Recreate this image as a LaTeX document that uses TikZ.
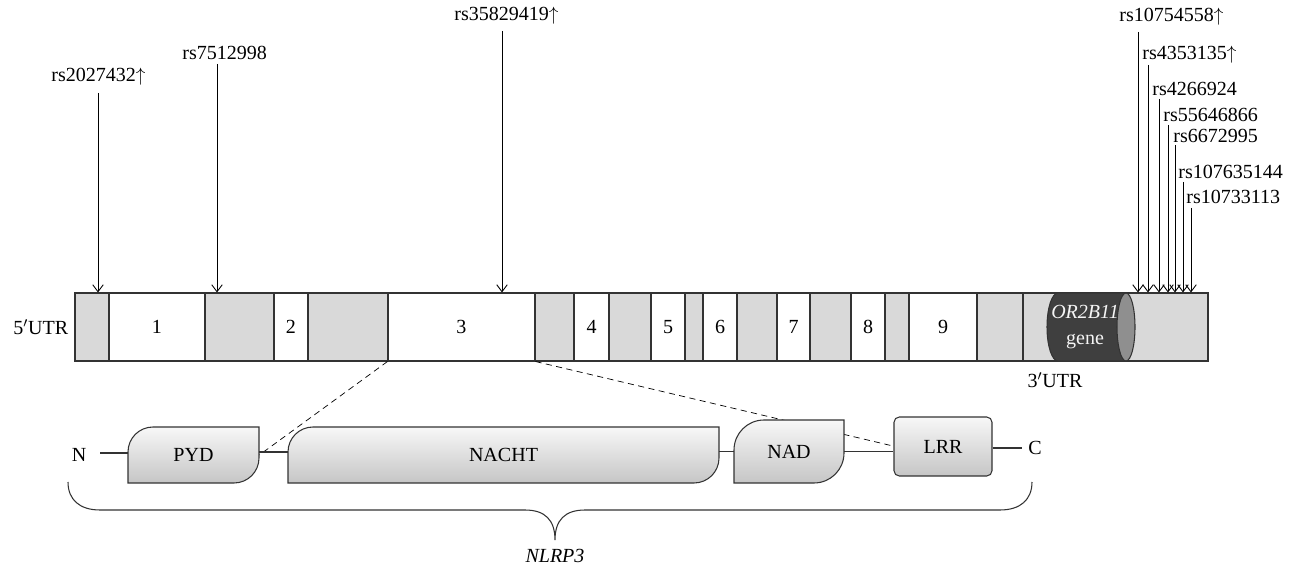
\documentclass[tikz,border=0pt]{standalone}
\usepackage{fontspec}
\setmainfont{Liberation Serif}
\usetikzlibrary{arrows.meta}
\definecolor{introngray}{HTML}{D9D9D9}
\definecolor{edgegray}{HTML}{333333}
\definecolor{genedark}{HTML}{3F3F3F}
\definecolor{genecap}{HTML}{8F8F8F}

\begin{document}
\begin{tikzpicture}[x=0.02cm,y=-0.02cm,
  font=\fontsize{11.4}{14}\selectfont,
  exonbox/.style={draw=edgegray,fill=white,inner sep=0pt,minimum height=68*0.02cm,line width=0.6pt},
  domainshape/.style={draw=edgegray,line width=0.6pt,top color=gray!6,bottom color=gray!45},
  snplabel/.style={anchor=west,inner sep=0pt},
  snparrow/.style={-{Straight Barb[length=4pt,width=6pt]},line width=0.5pt}]

  \useasboundingbox (0,0) rectangle (1298,567);

  % gene with exons 1-9
  \node[draw=edgegray,fill=introngray,line width=0.6pt,inner sep=0pt,
    minimum width=1133*0.02cm,minimum height=68*0.02cm] (gene) at (641.5,327) {};
  \foreach \a/\b/\n in {109/205/1,274/308/2,388/535/3,574/609/4,651/685/5,
                        703/737/6,777/810/7,851/885/8,909/977/9}
    \node[exonbox,minimum width={(\b-\a)*0.02cm}] (ex\n) at ({(\a+\b)/2},327) {\n};
  \draw[edgegray,line width=0.6pt] (gene.north -| 1023,0) -- (gene.south -| 1023,0);

  % OR2B11 cylinder
  \draw[edgegray,line width=0.6pt,fill=genedark] (1058,293)
    .. controls (1051.9,293) and (1047,308.2) .. (1047,327)
    .. controls (1047,345.8) and (1051.9,361) .. (1058,361)
    -- (1126,361) -- (1126,293) -- cycle;
  \draw[edgegray,line width=0.6pt,fill=genecap] (1126,327) ellipse [x radius=0.18cm,y radius=0.68cm];
  \node[align=center,text=white!92!gray,font=\fontsize{11.4}{14.5}\selectfont] (or2b11) at (1085,327)
    {\textit{OR2B11}\\gene};

  \node[left] (utr5) at (gene.west) {5$'$UTR};
  \node (utr3) at (1055,380) {3$'$UTR};

  % SNPs
  \node[snplabel] (rs1) at (51,77) {rs2027432$\uparrow$};
  \node[snplabel] (rs2) at (182,53) {rs7512998};
  \node[snplabel] (rs3) at (454,16) {rs35829419$\uparrow$};
  \node[snplabel] (rs4) at (1119,17) {rs10754558$\uparrow$};
  \node[snplabel] (rs5) at (1142,55) {rs4353135$\uparrow$};
  \node[snplabel] (rs6) at (1152,89) {rs4266924};
  \node[snplabel] (rs7) at (1163,115) {rs55646866};
  \node[snplabel] (rs8) at (1173,136) {rs6672995};
  \node[snplabel] (rs9) at (1178,172) {rs107635144};
  \node[snplabel] (rs10) at (1186,197) {rs10733113};

  \coordinate (s1) at (98,93);
  \coordinate (s2) at (217,64);
  \coordinate (s3) at (502,31);
  \coordinate (s4) at (1138,32);
  \coordinate (s5) at (1148,65);
  \coordinate (s6) at (1159,99);
  \coordinate (s7) at (1168,125);
  \coordinate (s8) at (1175,145);
  \coordinate (s9) at (1183,182);
  \coordinate (s10) at (1191,208);
  \foreach \s in {s1,s2,s3,s4,s5,s6,s7,s8,s9,s10}
    \draw[snparrow] (\s) -- (\s |- gene.north);

  % protein domains
  \node[inner sep=0pt,minimum width=131*0.02cm,minimum height=56*0.02cm] (pyd) at (193.5,455) {};
  \node[inner sep=0pt,minimum width=431*0.02cm,minimum height=56*0.02cm] (nacht) at (503.5,455) {};
  \node[inner sep=0pt,minimum width=110*0.02cm,minimum height=63*0.02cm] (nad) at (789,451.5) {};

  \draw[dashed,dash pattern=on 3.5pt off 2.5pt] (ex3.south west) -- (pyd.east);
  \draw[dashed,dash pattern=on 3.5pt off 2.5pt] (ex3.south east) -- (893,446);

  \draw[domainshape] (128,483) -- (128,452) .. controls (128,438.2) and (139.2,427) .. (153,427)
    -- (259,427) -- (259,458) .. controls (259,471.8) and (247.8,483) .. (234,483) -- cycle;
  \draw[domainshape] (288,483) -- (288,452) .. controls (288,438.2) and (299.2,427) .. (313,427)
    -- (719,427) -- (719,458) .. controls (719,471.8) and (707.8,483) .. (694,483) -- cycle;
  \draw[domainshape] (734,483) -- (734,450) .. controls (734,433.4) and (747.4,420) .. (764,420)
    -- (844,420) -- (844,453) .. controls (844,469.6) and (830.6,483) .. (814,483) -- cycle;
  \node[domainshape,rounded corners=3pt,inner sep=0pt,minimum width=98*0.02cm,minimum height=59*0.02cm]
    (lrr) at (943,446.5) {LRR};

  \node at (pyd) {PYD};
  \node at (nacht) {NACHT};
  \node at (nad) {NAD};
  \node (nterm) at (79,455) {N};
  \node (cterm) at (1035,448) {C};

  \draw[edgegray,line width=0.6pt] (100,453) -- (pyd.west |- 0,453);
  \draw[edgegray,line width=0.6pt] (pyd.east |- 0,452) -- (nacht.west |- 0,452);
  \draw[edgegray,line width=0.6pt] (nad.west) -- (nad.west -| nacht.east);
  \draw[edgegray,line width=0.6pt] (nad.east) -- (nad.east -| lrr.west);
  \draw[edgegray,line width=0.6pt] (lrr.east |- 0,448) -- (cterm.west);

  % brace under the protein
  \draw[edgegray,line width=0.6pt] (68,482) .. controls (68,500) and (80,510) .. (100,510)
    -- (525,510) .. controls (545,510) and (555,520) .. (555,540)
    .. controls (555,520) and (565,510) .. (585,510)
    -- (1000,510) .. controls (1020,510) and (1032,500) .. (1032,482);
  \node (nlrp3) at (555,556) {\textit{NLRP3}};
\end{tikzpicture}
\end{document}
